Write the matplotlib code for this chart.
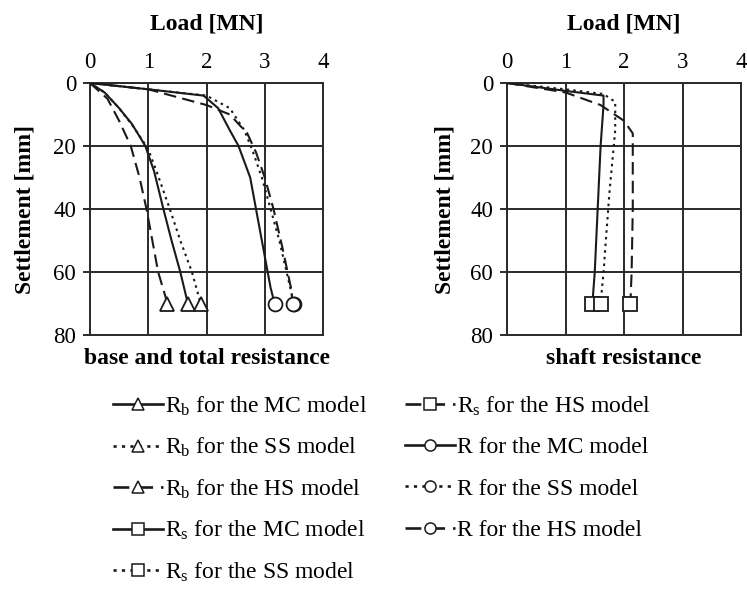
import matplotlib
matplotlib.use("Agg")
import matplotlib.pyplot as plt
from matplotlib.lines import Line2D

plt.rcParams['font.family'] = ['Liberation Serif', 'DejaVu Serif']
plt.rcParams['mathtext.fontset'] = 'custom'
plt.rcParams['mathtext.rm'] = 'Liberation Serif'
plt.rcParams['mathtext.it'] = 'Liberation Serif:italic'

# Base resistance Rb
rb_mc_x = [0, 0.25, 0.5, 0.72, 0.95, 1.1, 1.26, 1.4, 1.55, 1.68]
rb_mc_y = [0, 3, 8, 13, 20, 28, 40, 50, 60, 70]
rb_ss_x = [0, 0.25, 0.5, 0.75, 1.0, 1.18, 1.37, 1.55, 1.75, 1.9]
rb_ss_y = [0, 3, 8, 14, 21, 30, 40, 50, 60, 70]
rb_hs_x = [0, 0.3, 0.5, 0.7, 0.85, 0.97, 1.07, 1.17, 1.33]
rb_hs_y = [0, 5, 12, 20, 30, 40, 50, 60, 70]

# Total resistance R
r_mc_x = [0, 1.0, 1.95, 2.2, 2.4, 2.55, 2.75, 2.85, 3.0, 3.1, 3.17]
r_mc_y = [0, 2, 4, 8, 15, 20, 30, 40, 55, 65, 70]
r_ss_x = [0, 1.0, 2.0, 2.4, 2.65, 2.8, 2.95, 3.1, 3.25, 3.4, 3.5]
r_ss_y = [0, 2, 4, 8, 15, 22, 30, 40, 50, 62, 70]
r_hs_x = [0, 1.0, 2.0, 2.4, 2.7, 2.85, 3.0, 3.15, 3.3, 3.45, 3.48]
r_hs_y = [0, 2, 7, 10, 16, 22, 30, 40, 52, 65, 70]

# Shaft resistance Rs
rs_mc_x = [0, 1.0, 1.65, 1.65, 1.6, 1.55, 1.5, 1.46]
rs_mc_y = [0, 2.5, 4, 7, 20, 40, 60, 70]
rs_ss_x = [0, 1.0, 1.65, 1.85, 1.85, 1.75, 1.65, 1.6]
rs_ss_y = [0, 2, 3.5, 6, 15, 35, 60, 70]
rs_hs_x = [0, 1.0, 1.6, 2.0, 2.15, 2.15, 2.13, 2.11]
rs_hs_y = [0, 3, 7, 12, 16, 40, 60, 70]

labels = [
    r'R$_\mathrm{b}$ for the MC model',
    r'R$_\mathrm{b}$ for the SS model',
    r'R$_\mathrm{b}$ for the HS model',
    r'R$_\mathrm{s}$ for the MC model',
    r'R$_\mathrm{s}$ for the SS model',
    r'R$_\mathrm{s}$ for the HS model',
    'R for the MC model',
    'R for the SS model',
    'R for the HS model',
]

col = '#1a1a1a'
styles = {'MC': '-', 'SS': (0, (1.2, 2.0)), 'HS': (0, (6, 3))}

fig = plt.figure(figsize=(7.47, 5.89), dpi=100)
axL = fig.add_axes([90/747, 1-335/589, 233/747, 252/589])
axR = fig.add_axes([507/747, 1-335/589, 234/747, 252/589])

def plot(ax, x, y, ls, marker, ms=10):
    ax.plot(x, y, color=col, lw=1.5, ls=ls, zorder=3)
    ax.plot([x[-1]], [y[-1]], ls='none', marker=marker, ms=ms,
            mfc='white', mec=col, mew=1.3, zorder=4)

plot(axL, rb_mc_x, rb_mc_y, styles['MC'], '^')
plot(axL, rb_ss_x, rb_ss_y, styles['SS'], '^')
plot(axL, rb_hs_x, rb_hs_y, styles['HS'], '^')
plot(axL, r_mc_x, r_mc_y, styles['MC'], 'o')
plot(axL, r_ss_x, r_ss_y, styles['SS'], 'o')
plot(axL, r_hs_x, r_hs_y, styles['HS'], 'o')
plot(axR, rs_mc_x, rs_mc_y, styles['MC'], 's')
plot(axR, rs_ss_x, rs_ss_y, styles['SS'], 's')
plot(axR, rs_hs_x, rs_hs_y, styles['HS'], 's')

for ax, sub, ylx in [(axL, 'base and total resistance', (36-90)/233),
                     (axR, 'shaft resistance', (456-507)/234)]:
    ax.set_xlim(0, 4)
    ax.set_ylim(80, 0)
    ax.set_xticks([0, 1, 2, 3, 4])
    ax.set_yticks([0, 20, 40, 60, 80])
    ax.xaxis.tick_top()
    ax.xaxis.set_label_position('top')
    ax.tick_params(axis='both', labelsize=16.5, color=col, length=5,
                   width=1.3, direction='out', pad=5)
    ax.tick_params(axis='x', length=0, pad=7)
    ax.grid(True, color='#2a2a2a', lw=1.4)
    ax.set_axisbelow(True)
    for s in ax.spines.values():
        s.set_color('#2a2a2a')
        s.set_linewidth(1.4)
    ax.set_xlabel('Load [MN]', fontsize=17, fontweight='bold')
    ax.xaxis.set_label_coords(0.5, 1.214)
    ax.set_ylabel('Settlement [mm]', fontsize=17, fontweight='bold')
    ax.yaxis.set_label_coords(ylx, 0.5)
    ax.text(0.5, -0.052, sub, transform=ax.transAxes, ha='center', va='top',
            fontsize=17, fontweight='bold')

specs = [
    (styles['MC'], '^'), (styles['SS'], '^'), (styles['HS'], '^'),
    (styles['MC'], 's'), (styles['SS'], 's'), (styles['HS'], 's'),
    (styles['MC'], 'o'), (styles['SS'], 'o'), (styles['HS'], 'o')]
handles = [Line2D([], [], color=col, lw=1.9, ls=ls, marker=mk, ms=8,
                  mfc='white', mec=col, mew=1.1) for ls, mk in specs]

row_y = [406, 447.5, 489, 530.5, 572]
col_x = [113, 405]
common = dict(loc='center left', frameon=False, fontsize=17,
              handlelength=2.1, handletextpad=0.12,
              borderaxespad=0, borderpad=0)
for i, (h, lab) in enumerate(zip(handles, labels)):
    c, r = divmod(i, 5)
    fig.legend(handles=[h], labels=[lab],
               bbox_to_anchor=(col_x[c]/747, 1-row_y[r]/589), **common)

fig.savefig('out.png', dpi=100)
